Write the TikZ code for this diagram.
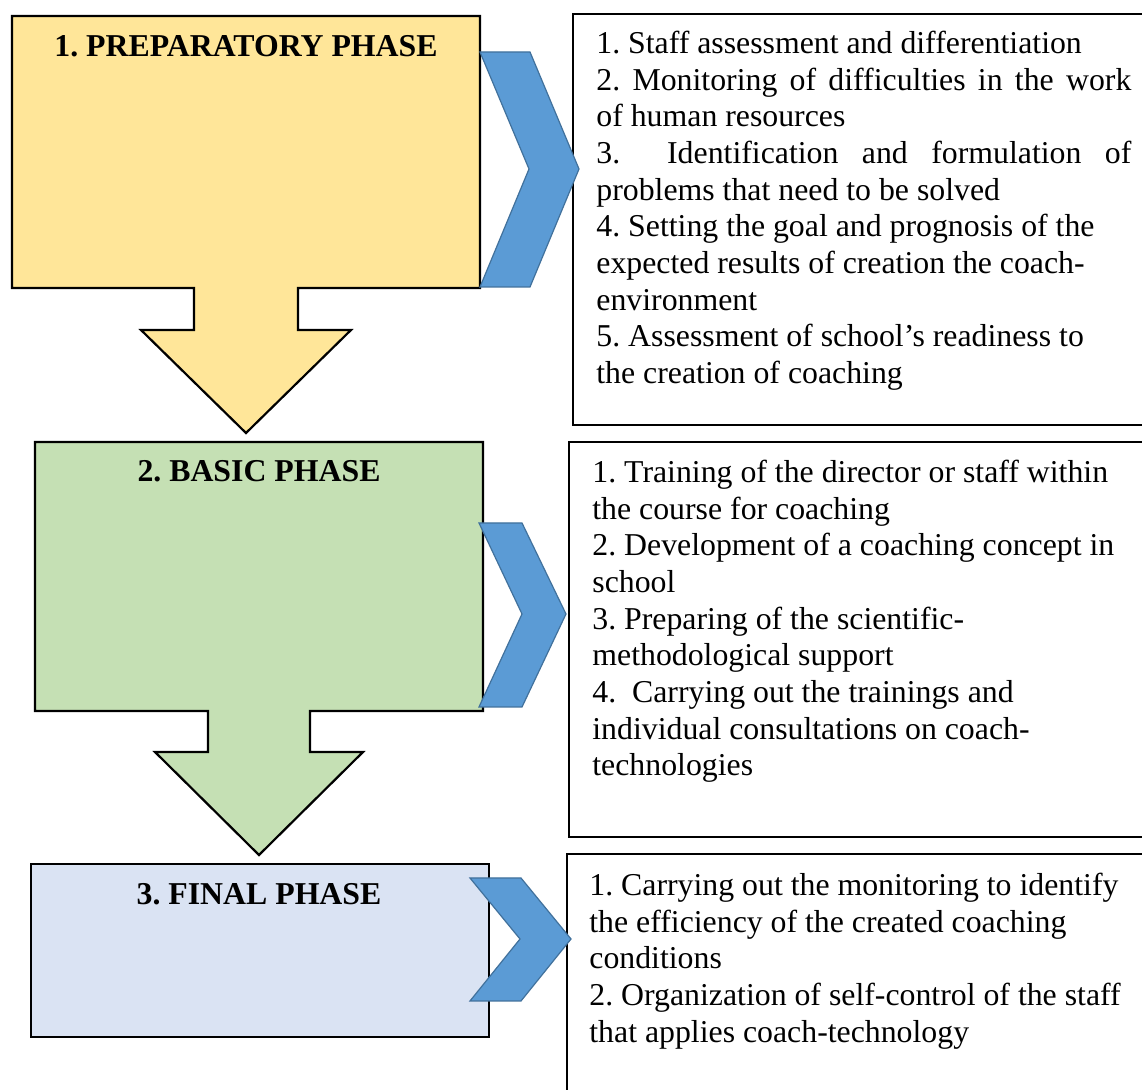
\documentclass[tikz,border=0pt]{standalone}
\usepackage{fontspec}
\setmainfont{Liberation Serif}
\usetikzlibrary{positioning}
\definecolor{gelb}{HTML}{FFE699}
\definecolor{gruen}{HTML}{C5E0B4}
\definecolor{hellblau}{HTML}{DAE3F3}
\definecolor{chevblau}{HTML}{5B9BD5}
\definecolor{chevrand}{HTML}{41719C}
\newcommand{\txtsize}{\fontsize{15.9pt}{18.35pt}\selectfont\frenchspacing}
\newcommand{\voll}[1]{\makebox[267.5pt][s]{#1}}

\begin{document}
\begin{tikzpicture}[
    x=0.5pt, y=-0.5pt,
    phase/.style = {draw, line width=1.1pt, line join=miter},
    liste/.style = {draw, line width=1pt},
    chev/.style = {fill=chevblau, draw=chevrand, line width=0.6pt, line join=miter},
    titel/.style = {font=\txtsize\bfseries, anchor=base, inner sep=0pt},
    punkte/.style = {font=\txtsize, anchor=north west, inner sep=0pt, align=left}
    ]
    \clip (0,0) rectangle (1142,1090);
    \fill[white] (0,0) rectangle (1142,1090);

    %phase shapes
    \draw[phase, fill=gelb] (12,16) -- (480,16) -- (480,288) -- (298,288)
        -- (298,330) -- (351,330) -- (246,433) -- (141,330) -- (194,330)
        -- (194,288) -- (12,288) -- cycle;
    \draw[phase, fill=gruen] (35,442) -- (483,442) -- (483,711) -- (310,711)
        -- (310,752) -- (363,752) -- (259,855) -- (155,752) -- (208,752)
        -- (208,711) -- (35,711) -- cycle;
    \draw[phase, fill=hellblau] (31,864) rectangle (489,1037);

    \node[titel] (T1) at (246,57) {1. PREPARATORY PHASE};
    \node[titel] (T2) at (259,482) {2. BASIC PHASE};
    \node[titel] (T3) at (259,905) {3. FINAL PHASE};

    %lists
    \draw[liste] (573,14) rectangle (1160,425);
    \draw[liste] (569,442) rectangle (1160,837);
    \draw[liste] (567,854) rectangle (1160,1110);

    \node[punkte] (L1) at (596,27.3)
        {\strut 1. Staff assessment and differentiation\\
         \voll{2. Monitoring of difficulties in the work}\\
         of human resources\\
         \voll{3.\ \ Identification and formulation of}\\
         problems that need to be solved\\
         4. Setting the goal and prognosis of the\\
         expected results of creation the coach-\\
         environment\\
         5. Assessment of school’s readiness to\\
         the creation of coaching};
    \node[punkte] (L2) at (592,456.3)
        {\strut 1. Training of the director or staff within\\
         the course for coaching\\
         2. Development of a coaching concept in\\
         school\\
         3. Preparing of the scientific-\\
         methodological support\\
         4.\ \ Carrying out the trainings and\\
         individual consultations on coach-\\
         technologies};
    \node[punkte] (L3) at (589,869.3)
        {\strut 1. Carrying out the monitoring to identify\\
         the efficiency of the created coaching\\
         conditions\\
         2. Organization of self-control of the staff\\
         that applies coach-technology};

    %chevrons
    \draw[chev] (480,52) -- (530,52) -- (579,169) -- (530,287) -- (480,287)
        -- (529,169) -- cycle;
    \draw[chev] (479,523) -- (522,523) -- (566,614) -- (522,707) -- (479,707)
        -- (522,614) -- cycle;
    \draw[chev] (470,878) -- (521,878) -- (571,939) -- (521,1001) -- (470,1001)
        -- (520,939) -- cycle;
\end{tikzpicture}
\end{document}
